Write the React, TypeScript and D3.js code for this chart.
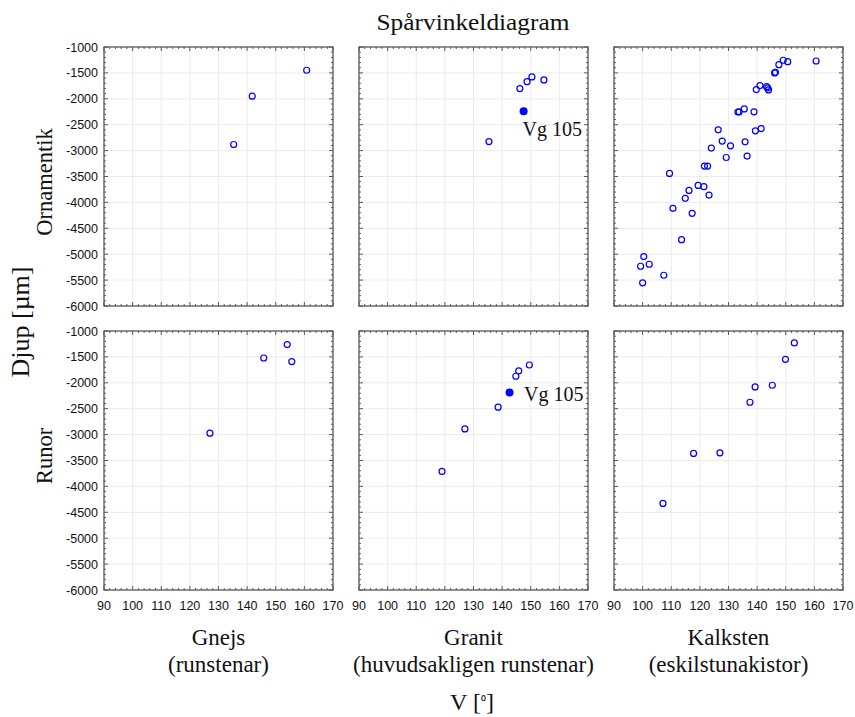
import React from "react";
import * as d3 from "d3";

// ---- data ----
const columnNames = ["Gnejs", "Granit", "Kalksten"];
const columnSubtitles = ["(runstenar)", "(huvudsakligen runstenar)", "(eskilstunakistor)"];
const rowNames = ["Ornamentik", "Runor"];
const xTicks = [90, 100, 110, 120, 130, 140, 150, 160, 170];
const yTicks = [-1000, -1500, -2000, -2500, -3000, -3500, -4000, -4500, -5000, -5500, -6000];

// [V, Djup]
const gnejsOrnamentik: [number, number][] = [
  [160.8, -1449], [141.8, -1950], [135.3, -2882],
];
const granitOrnamentik: [number, number][] = [
  [146.2, -1803], [148.7, -1669], [150.4, -1578], [154.6, -1636], [135.4, -2825],
];
const kalkstenOrnamentik: [number, number][] = [
  [160.6, -1270], [149.1, -1256], [150.7, -1283], [147.6, -1341], [146.4, -1488],
  [146.1, -1500], [141.0, -1745], [139.7, -1822], [143.3, -1765], [143.7, -1790],
  [144.0, -1828], [135.5, -2195], [133.7, -2252], [133.3, -2255], [138.9, -2252],
  [126.4, -2599], [141.4, -2574], [139.4, -2618], [127.8, -2817], [135.8, -2830],
  [130.7, -2908], [124.0, -2952], [129.2, -3133], [136.5, -3106], [121.6, -3299],
  [122.7, -3299], [109.4, -3441], [119.4, -3672], [121.4, -3697], [116.2, -3768],
  [114.9, -3922], [123.2, -3858], [110.6, -4115], [117.3, -4211], [113.6, -4719],
  [100.4, -5046], [99.3, -5233], [102.3, -5194], [107.4, -5406], [100.0, -5553],
];
const gnejsRunor: [number, number][] = [
  [154.0, -1262], [145.8, -1521], [155.6, -1590], [127.0, -2973],
];
const granitRunor: [number, number][] = [
  [119.0, -3711], [127.0, -2890], [138.6, -2471], [144.8, -1874], [145.8, -1771], [149.5, -1656],
];
const kalkstenRunor: [number, number][] = [
  [153.0, -1231], [149.9, -1546], [145.3, -2047], [139.3, -2080], [137.5, -2375],
  [127.0, -3352], [117.8, -3364], [107.1, -4328],
];
const vg105Ornamentik: [number, number] = [147.5, -2239];
const vg105Runor: [number, number] = [142.6, -2188];
const highlightLabel = "Vg 105";

const panelData = [
  [gnejsOrnamentik, granitOrnamentik, kalkstenOrnamentik],
  [gnejsRunor, granitRunor, kalkstenRunor],
];
const panelHighlight: ([number, number] | null)[][] = [
  [null, vg105Ornamentik, null],
  [null, vg105Runor, null],
];

// ---- layout ----
const W = 855;
const H = 717;
const colX = [104, 359, 614];
const rowY = [47, 331];
const PW = 229;
const PH = 259;
const SERIF = "'Liberation Serif', 'Times New Roman', serif";
const SANS = "'Liberation Sans', Arial, sans-serif";
const BLUE = "#0000ff";

function Panel({ r, c }: { r: number; c: number }) {
  const x0 = colX[c];
  const y0 = rowY[r];
  const x = d3.scaleLinear().domain([90, 170]).range([x0, x0 + PW]);
  const y = d3.scaleLinear().domain([-1000, -6000]).range([y0, y0 + PH]);
  const minorX = d3.range(90, 170.001, 2);
  const minorY = d3.range(-6000, -999, 100);
  const pts = panelData[r][c];
  const hl = panelHighlight[r][c];
  const ticks: React.ReactNode[] = [];
  minorX.forEach((v, i) => {
    const major = Math.abs(v % 10) < 1e-6;
    const L = major ? 4 : 2;
    const xx = x(v);
    ticks.push(<line key={"tb" + i} x1={xx} x2={xx} y1={y0} y2={y0 + L} />);
    ticks.push(<line key={"bb" + i} x1={xx} x2={xx} y1={y0 + PH} y2={y0 + PH - L} />);
  });
  minorY.forEach((v, i) => {
    const major = Math.abs(v % 500) < 1e-6;
    const L = major ? 4 : 2;
    const yy = y(v);
    ticks.push(<line key={"lb" + i} x1={x0} x2={x0 + L} y1={yy} y2={yy} />);
    ticks.push(<line key={"rb" + i} x1={x0 + PW} x2={x0 + PW - L} y1={yy} y2={yy} />);
  });
  return (
    <g>
      <g stroke="#ececec" strokeWidth={1}>
        {xTicks.slice(1, -1).map((t) => (
          <line key={"gx" + t} x1={x(t)} x2={x(t)} y1={y0} y2={y0 + PH} />
        ))}
        {yTicks.slice(1, -1).map((t) => (
          <line key={"gy" + t} x1={x0} x2={x0 + PW} y1={y(t)} y2={y(t)} />
        ))}
      </g>
      <g stroke="#333" strokeWidth={0.8}>{ticks}</g>
      <rect x={x0} y={y0} width={PW} height={PH} fill="none" stroke="#555" strokeWidth={1.3} />
      {pts.map((p, i) => (
        <circle key={i} cx={x(p[0])} cy={y(p[1])} r={3} fill="none" stroke={BLUE} strokeWidth={1.2} />
      ))}
      {hl && (
        <g>
          <circle cx={x(hl[0])} cy={y(hl[1])} r={4} fill={BLUE} />
          <text
            x={r === 0 ? x(hl[0]) - 1 : x(hl[0]) + 14.5}
            y={r === 0 ? y(hl[1]) + 25 : y(hl[1]) + 8.5}
            fontFamily={SERIF}
            fontSize={20}
            fill="#111"
          >
            {highlightLabel}
          </text>
        </g>
      )}
      {c === 0 &&
        yTicks.map((t) => (
          <text key={"yl" + t} x={x0 - 6} y={y(t) + 4.5} textAnchor="end" fontFamily={SANS} fontSize={12.5} fill="#111">
            {t}
          </text>
        ))}
      {r === 1 &&
        xTicks.map((t) => (
          <text key={"xl" + t} x={x(t)} y={y0 + PH + 20} textAnchor="middle" fontFamily={SANS} fontSize={12.5} fill="#111">
            {t}
          </text>
        ))}
    </g>
  );
}

export default function App() {
  const rowCenters = [182, 456];
  return (
    <svg
      width={W}
      height={H}
      viewBox={`0 0 ${W} ${H}`}
      style={{ position: "absolute", left: 0, top: 0, display: "block", background: "#fff" }}
    >
      <rect x={0} y={0} width={W} height={H} fill="#fff" />
      <text x={473} y={29.5} textAnchor="middle" fontFamily={SERIF} fontSize={23} textLength={193} lengthAdjust="spacingAndGlyphs" fill="#111">
        Spårvinkeldiagram
      </text>
      {rowNames.map((rn, r) =>
        columnNames.map((cn, c) => <Panel key={rn + cn} r={r} c={c} />)
      )}
      {rowNames.map((rn, r) => (
        <text
          key={rn}
          transform={`translate(51.5, ${rowCenters[r]}) rotate(-90)`}
          textAnchor="middle"
          fontFamily={SERIF}
          fontSize={22.5}
          fill="#111"
        >
          {rn}
        </text>
      ))}
      <text
        transform={`translate(29, 322) rotate(-90)`}
        textAnchor="middle"
        fontFamily={SERIF}
        fontSize={26}
        fill="#111"
      >
        Djup [µm]
      </text>
      {columnNames.map((cn, c) => (
        <g key={cn}>
          <text x={colX[c] + PW / 2} y={645} textAnchor="middle" fontFamily={SERIF} fontSize={23} fill="#111">
            {cn}
          </text>
          <text x={colX[c] + PW / 2} y={671.5} textAnchor="middle" fontFamily={SERIF} fontSize={23} fill="#111">
            {columnSubtitles[c]}
          </text>
        </g>
      ))}
      <text x={472} y={710} textAnchor="middle" fontFamily={SERIF} fontSize={24} fill="#111">
        V [<tspan fontSize={14} dy={-3}>⁰</tspan><tspan dy={3}>]</tspan>
      </text>
    </svg>
  );
}
